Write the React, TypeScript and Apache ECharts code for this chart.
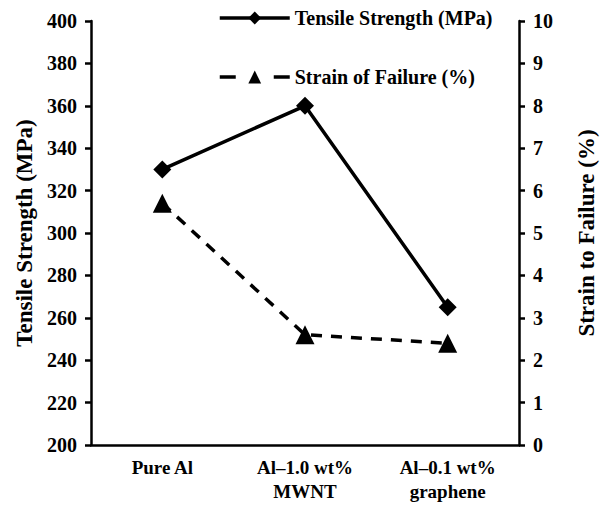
import React, { useEffect, useRef } from "react";
import * as echarts from "echarts";

// Materials compared along the x axis
const categories = ["Pure Al", "Al–1.0 wt%\nMWNT", "Al–0.1 wt%\ngraphene"];
// Ultimate tensile strength, MPa (left axis)
const tensileStrength = [330, 360, 265];
// Elongation at failure, % (right axis)
const strainToFailure = [5.7, 2.6, 2.4];

const FONT = "Liberation Serif";

export default function App() {
  const ref = useRef<HTMLDivElement>(null);

  useEffect(() => {
    if (!ref.current) return;
    const chart = echarts.init(ref.current, undefined, { renderer: "svg" });
    const axisLine = { show: true, lineStyle: { color: "#000", width: 2.5 } };
    const tickStyle = { show: true, length: 6, lineStyle: { color: "#000", width: 2.5 } };
    const bold = { fontFamily: FONT, fontWeight: "bold" as const, color: "#000" };
    chart.setOption({
      animation: false,
      backgroundColor: "#fff",
      textStyle: { fontFamily: FONT, color: "#000" },
      grid: { left: 91, right: 68, top: 21, bottom: 62, containLabel: false },
      legend: {
        orient: "vertical",
        left: 213,
        top: 3,
        itemWidth: 70,
        itemHeight: 16,
        itemGap: 39,
        lineStyle: { width: 3.5 },
        textStyle: { ...bold, fontSize: 20 },
        data: [
          { name: "Tensile Strength (MPa)" },
          { name: "Strain of Failure (%)", lineStyle: { width: 3.5, type: [16, 38] } },
        ],
      },
      xAxis: {
        type: "category",
        data: categories,
        boundaryGap: true,
        axisLine,
        axisTick: { show: false },
        axisLabel: { ...bold, margin: 10, fontSize: 19, lineHeight: 24, verticalAlign: "top" },
        splitLine: { show: false },
      },
      yAxis: [
        {
          type: "value",
          min: 200,
          max: 400,
          interval: 20,
          name: "Tensile Strength (MPa)",
          nameLocation: "middle",
          nameGap: 54,
          nameTextStyle: { ...bold, fontSize: 23 },
          axisLine,
          axisTick: tickStyle,
          axisLabel: { ...bold, margin: 14, fontSize: 20 },
          splitLine: { show: false },
        },
        {
          type: "value",
          min: 0,
          max: 10,
          interval: 1,
          position: "right",
          name: "Strain to Failure (%)",
          nameLocation: "middle",
          nameGap: 56,
          nameRotate: 90,
          nameTextStyle: { ...bold, fontSize: 23 },
          axisLine,
          axisTick: tickStyle,
          axisLabel: { ...bold, margin: 14, fontSize: 20 },
          splitLine: { show: false },
        },
      ],
      series: [
        {
          name: "Tensile Strength (MPa)",
          type: "line",
          yAxisIndex: 0,
          data: tensileStrength,
          symbol: "diamond",
          symbolSize: 18,
          lineStyle: { color: "#000", width: 3.5, type: "solid" },
          itemStyle: { color: "#000" },
        },
        {
          name: "Strain of Failure (%)",
          type: "line",
          yAxisIndex: 1,
          data: strainToFailure,
          symbol: "triangle",
          symbolSize: [19, 19],
          lineStyle: { color: "#000", width: 3.5, type: [11, 9] },
          itemStyle: { color: "#000" },
        },
      ],
    });
    return () => chart.dispose();
  }, []);

  return (
    <div
      ref={ref}
      style={{ position: "absolute", left: 0, top: 0, width: 606, height: 507 }}
    />
  );
}
